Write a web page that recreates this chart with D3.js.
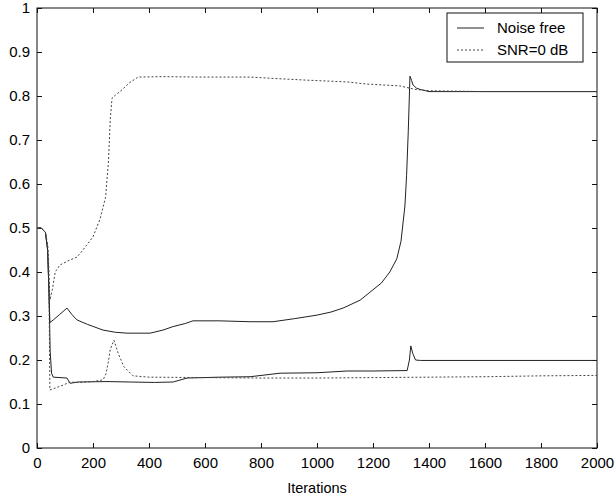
<!DOCTYPE html>
<html>
<head>
<meta charset="utf-8">
<script src="https://cdn.jsdelivr.net/npm/d3@7/dist/d3.min.js"></script>
<style>
  html, body { margin: 0; padding: 0; background: #fff; }
  svg { display: block; }
  text { font-family: "Liberation Sans", Arial, Helvetica, sans-serif; fill: #000; }
</style>
</head>
<body>
<svg id="chart" width="616" height="499"></svg>
<script>
// ---- Data ----
const xTicks = [0, 200, 400, 600, 800, 1000, 1200, 1400, 1600, 1800, 2000];
const yTicks = [0, 0.1, 0.2, 0.3, 0.4, 0.5, 0.6, 0.7, 0.8, 0.9, 1];
const yTickLabels = ["0", "0.1", "0.2", "0.3", "0.4", "0.5", "0.6", "0.7", "0.8", "0.9", "1"];
const legendLabels = ["Noise free", "SNR=0 dB"];
const xLabel = "Iterations";

// Noise free, upper parameter
const nfUpperIter = [0, 15, 30, 38, 43, 46, 60, 80, 107, 125, 143, 180, 236, 280, 321, 404, 450, 486, 530, 557, 650, 761, 843, 920, 1000, 1050, 1093, 1154, 1189, 1230, 1260, 1285, 1300, 1314, 1320, 1326, 1332, 1338, 1343, 1355, 1368, 1400, 1500, 1700, 2000];
const nfUpperVal  = [0.5, 0.5, 0.49, 0.45, 0.35, 0.285, 0.292, 0.303, 0.318, 0.303, 0.291, 0.281, 0.268, 0.263, 0.261, 0.261, 0.268, 0.276, 0.283, 0.289, 0.289, 0.287, 0.287, 0.294, 0.302, 0.309, 0.318, 0.336, 0.354, 0.375, 0.40, 0.43, 0.47, 0.55, 0.62, 0.72, 0.845, 0.835, 0.825, 0.818, 0.815, 0.81, 0.81, 0.81, 0.81];

// Noise free, lower parameter
const nfLowerIter = [0, 15, 30, 38, 43, 47, 52, 58, 107, 118, 146, 250, 332, 420, 486, 536, 653, 761, 868, 1000, 1107, 1200, 1322, 1330, 1335, 1342, 1352, 1370, 1500, 1800, 2000];
const nfLowerVal  = [0.5, 0.5, 0.49, 0.45, 0.35, 0.22, 0.17, 0.161, 0.159, 0.147, 0.15, 0.151, 0.15, 0.149, 0.15, 0.159, 0.161, 0.162, 0.17, 0.171, 0.175, 0.175, 0.176, 0.2, 0.232, 0.215, 0.2, 0.199, 0.199, 0.199, 0.199];

// SNR = 0 dB, upper parameter
const snrUpperIter = [0, 15, 30, 38, 43, 46, 55, 65, 82, 110, 143, 164, 200, 225, 245, 255, 262, 268, 280, 300, 330, 361, 450, 582, 761, 843, 964, 1107, 1179, 1296, 1350, 1400, 1600, 2000];
const snrUpperVal  = [0.5, 0.5, 0.49, 0.46, 0.4, 0.336, 0.36, 0.4, 0.416, 0.425, 0.434, 0.45, 0.48, 0.52, 0.57, 0.65, 0.75, 0.795, 0.802, 0.812, 0.83, 0.843, 0.844, 0.843, 0.843, 0.84, 0.836, 0.832, 0.827, 0.823, 0.815, 0.812, 0.81, 0.81];

// SNR = 0 dB, lower parameter
const snrLowerIter = [0, 15, 30, 38, 43, 46, 60, 93, 118, 150, 200, 236, 246, 254, 262, 275, 290, 310, 343, 400, 600, 800, 1000, 1200, 1400, 1600, 1800, 2000];
const snrLowerVal  = [0.5, 0.5, 0.49, 0.46, 0.35, 0.132, 0.135, 0.143, 0.15, 0.149, 0.151, 0.155, 0.168, 0.193, 0.225, 0.245, 0.215, 0.185, 0.164, 0.161, 0.16, 0.159, 0.159, 0.16, 0.161, 0.162, 0.164, 0.165];

// ---- Layout ----
const mLeft = 37, mRight = 597, mTop = 8, mBottom = 448;
const svg = d3.select("#chart");
const x = d3.scaleLinear().domain([0, 2000]).range([mLeft, mRight]);
const y = d3.scaleLinear().domain([0, 1]).range([mBottom, mTop]);

const axisColor = "#111";
const tickLen = 5;
const fontSize = 15;

// frame
svg.append("rect")
  .attr("x", mLeft).attr("y", mTop)
  .attr("width", mRight - mLeft).attr("height", mBottom - mTop)
  .attr("fill", "none").attr("stroke", axisColor).attr("stroke-width", 1);

// bottom axis (ticks inward)
const xAxis = d3.axisBottom(x).tickValues(xTicks).tickSize(-tickLen).tickPadding(9).tickFormat(d3.format("d"));
const gx = svg.append("g").attr("transform", `translate(0,${mBottom})`).call(xAxis);
gx.select(".domain").remove();
gx.selectAll("line").attr("stroke", axisColor);
gx.selectAll("text").attr("font-size", fontSize).style("fill", "#000")
  .attr("font-family", "Liberation Sans, Arial, sans-serif");

// top axis ticks
const gxt = svg.append("g").attr("transform", `translate(0,${mTop})`)
  .call(d3.axisTop(x).tickValues(xTicks).tickSize(-tickLen).tickFormat(""));
gxt.select(".domain").remove();
gxt.selectAll("line").attr("stroke", axisColor);

// left axis
const yAxis = d3.axisLeft(y).tickValues(yTicks).tickSize(-tickLen).tickPadding(7)
  .tickFormat((d, i) => yTickLabels[i]);
const gy = svg.append("g").attr("transform", `translate(${mLeft},0)`).call(yAxis);
gy.select(".domain").remove();
gy.selectAll("line").attr("stroke", axisColor);
gy.selectAll("text").attr("font-size", fontSize).style("fill", "#000")
  .attr("font-family", "Liberation Sans, Arial, sans-serif");

// right axis ticks
const gyr = svg.append("g").attr("transform", `translate(${mRight},0)`)
  .call(d3.axisRight(y).tickValues(yTicks).tickSize(-tickLen).tickFormat(""));
gyr.select(".domain").remove();
gyr.selectAll("line").attr("stroke", axisColor);

// x label
svg.append("text")
  .attr("x", (mLeft + mRight) / 2).attr("y", 493)
  .attr("text-anchor", "middle").attr("font-size", 14.5)
  .text(xLabel);

// ---- Lines ----
const line = d3.line().x(d => x(d[0])).y(d => y(d[1]));
const zip = (a, b) => a.map((v, i) => [v, b[i]]);

const curves = [
  { pts: zip(nfUpperIter, nfUpperVal), dashed: false },
  { pts: zip(nfLowerIter, nfLowerVal), dashed: false },
  { pts: zip(snrUpperIter, snrUpperVal), dashed: true },
  { pts: zip(snrLowerIter, snrLowerVal), dashed: true }
];

svg.append("g").selectAll("path").data(curves).join("path")
  .attr("d", d => line(d.pts))
  .attr("fill", "none")
  .attr("stroke", d => d.dashed ? "#444" : "#222")
  .attr("stroke-width", 1)
  .attr("stroke-dasharray", d => d.dashed ? "2,2" : null);

// ---- Legend ----
const lg = svg.append("g");
const lx = 447, ly = 13, lw = 136, lh = 49;
lg.append("rect").attr("x", lx).attr("y", ly).attr("width", lw).attr("height", lh)
  .attr("fill", "#fff").attr("stroke", axisColor).attr("stroke-width", 1);
legendLabels.forEach((lab, i) => {
  const cy = ly + 15 + i * 22;
  lg.append("line").attr("x1", lx + 10).attr("x2", lx + 37).attr("y1", cy).attr("y2", cy)
    .attr("stroke", i ? "#444" : "#222").attr("stroke-width", 1)
    .attr("stroke-dasharray", i ? "2,2" : null);
  lg.append("text").attr("x", lx + 50).attr("y", cy + 5).attr("font-size", fontSize).text(lab);
});
</script>
</body>
</html>
